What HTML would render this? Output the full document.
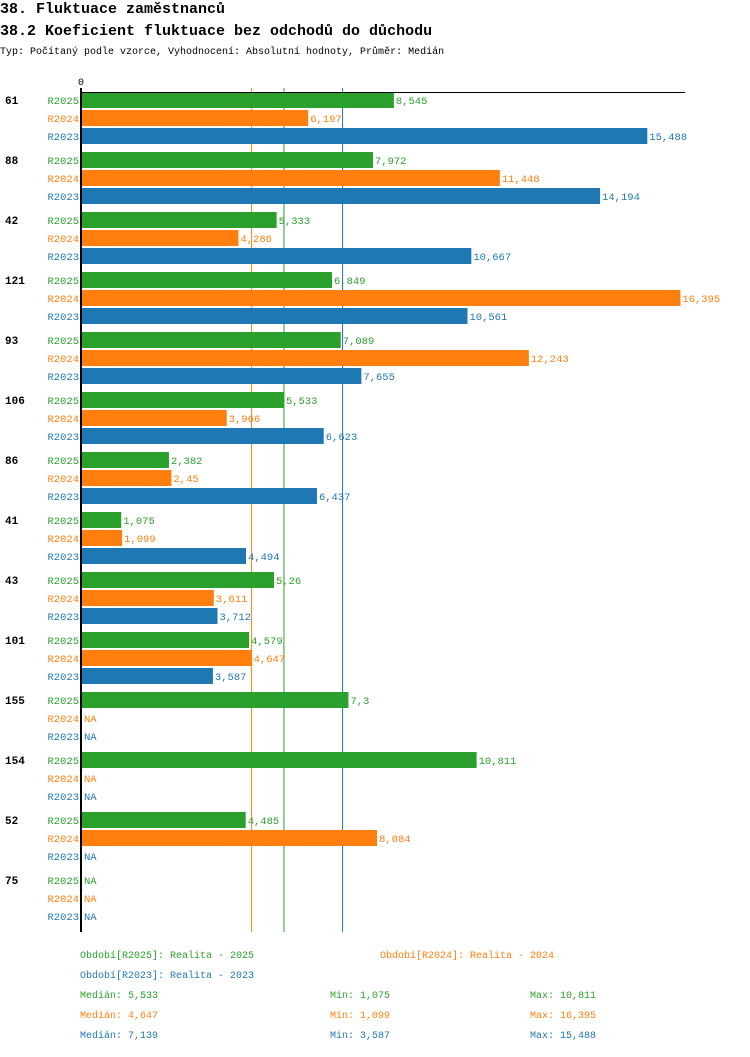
<!DOCTYPE html>
<html><head><meta charset="utf-8"><style>
body{margin:0;background:#fff;width:750px;height:1052px;overflow:hidden}
svg text{font-family:"Liberation Mono","DejaVu Sans Mono",monospace}
</style></head><body>
<svg id="c" width="750" height="1052" xmlns="http://www.w3.org/2000/svg">
<text x="0" y="13" font-size="15" font-weight="bold">38. Fluktuace zaměstnanců</text>
<text x="0" y="35" font-size="15" font-weight="bold">38.2 Koeficient fluktuace bez odchodů do důchodu</text>
<text x="0" y="54" font-size="10">Typ: Počítaný podle vzorce, Vyhodnocení: Absolutní hodnoty, Průměr: Medián</text>
</svg>
<script>
const categories=["61","88","42","121","93","106","86","41","43","101","155","154","52","75"];
const seriesNames=["R2025","R2024","R2023"];
const r2025=[8.545,7.972,5.333,6.849,7.089,5.533,2.382,1.075,5.26,4.579,7.3,10.811,4.485,null];
const r2024=[6.197,11.448,4.286,16.395,12.243,3.966,2.45,1.099,3.611,4.647,null,null,8.084,null];
const r2023=[15.488,14.194,10.667,10.561,7.655,6.623,6.437,4.494,3.712,3.587,null,null,null,null];
const labels2025=["8,545","7,972","5,333","6,849","7,089","5,533","2,382","1,075","5,26","4,579","7,3","10,811","4,485","NA"];
const labels2024=["6,197","11,448","4,286","16,395","12,243","3,966","2,45","1,099","3,611","4,647","NA","NA","8,084","NA"];
const labels2023=["15,488","14,194","10,667","10,561","7,655","6,623","6,437","4,494","3,712","3,587","NA","NA","NA","NA"];
const medians=[5.533,4.647,7.139];
const medianLabels=["5,533","4,647","7,139"];
const minLabels=["1,075","1,099","3,587"];
const maxLabels=["10,811","16,395","15,488"];
const colors=["#2ca02c","#ff7f0e","#1f77b4"];
const NS="http://www.w3.org/2000/svg";
const svg=document.getElementById('c');
const x0=82, scale=36.5;
const xs=v=>x0+v*scale;
const yGroup=i=>92+i*60;
function el(t,a,txt){const e=document.createElementNS(NS,t);for(const k in a)e.setAttribute(k,a[k]);if(txt!==undefined)e.textContent=txt;svg.appendChild(e);return e;}
const all=[r2025,r2024,r2023], labs=[labels2025,labels2024,labels2023];
const yEnd=932;
medians.forEach((m,j)=>{
  const l=el('line',{x1:xs(m),x2:xs(m),y1:88,y2:yEnd,stroke:colors[j],'stroke-width':1});
  
  
});
categories.forEach((c,i)=>{
  const t=el('text',{x:5,y:yGroup(i)+12,'font-size':11,'font-weight':'bold'},c);
  
  
  all.forEach((s,j)=>{
    const y=yGroup(i)+j*18;
    const l=el('text',{x:79,y:y+12,'font-size':10.5,fill:colors[j],'text-anchor':'end'},seriesNames[j]);
    
    
    let end=x0;
    if(s[i]!==null){
      const r=el('rect',{x:x0,y:y,width:xs(s[i])-x0,height:16,fill:colors[j]});
      
      
      end=xs(s[i]);
    }
    const v=el('text',{x:end+2,y:y+12,'font-size':10.5,fill:colors[j]},labs[j][i]);
    
    
  });
});
const ax=el('line',{x1:80,x2:685,y1:92.5,y2:92.5,stroke:'#000','stroke-width':1});


const ay=el('line',{x1:81,x2:81,y1:88,y2:yEnd,stroke:'#000','stroke-width':2});


const z=el('text',{x:78,y:85,'font-size':10},'0');


const legend=[["Období[R2025]: Realita - 2025",80,958,0],["Období[R2024]: Realita - 2024",380,958,1],["Období[R2023]: Realita - 2023",80,978,2]];
legend.forEach(a=>{
  const t=el('text',{x:a[1],y:a[2],'font-size':10,fill:colors[a[3]]},a[0]);
  
  
});
for(let j=0;j<3;j++){
  const y=998+j*20;
  const a=el('text',{x:80,y:y,'font-size':10,fill:colors[j]},'Medián: '+medianLabels[j]);
  
  
  const b=el('text',{x:330,y:y,'font-size':10,fill:colors[j]},'Min: '+minLabels[j]);
  
  
  const d=el('text',{x:530,y:y,'font-size':10,fill:colors[j]},'Max: '+maxLabels[j]);
  
  
}
</script>
</body></html>
